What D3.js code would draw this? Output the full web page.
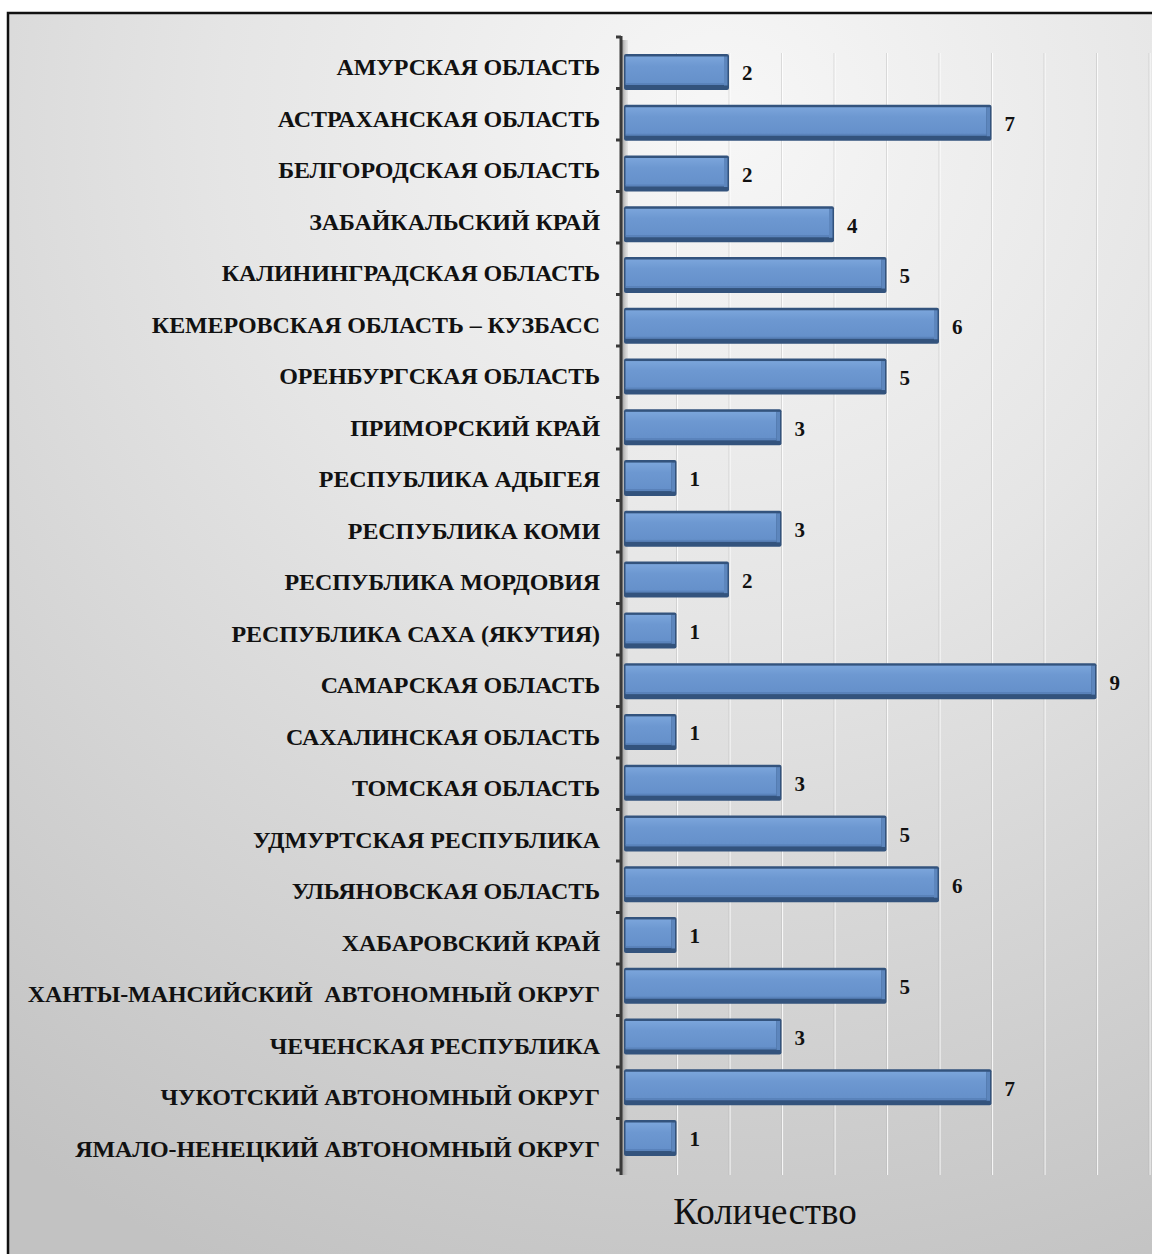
<!DOCTYPE html>
<html><head><meta charset="utf-8">
<script src="https://cdn.jsdelivr.net/npm/d3@7"></script>
<style>
html,body{margin:0;padding:0;background:#fff;}
svg{display:block;}
text{white-space:pre;}
</style></head>
<body>
<svg id="chart" width="1152" height="1254"></svg>
<script>
const categories = [
  "АМУРСКАЯ ОБЛАСТЬ",
  "АСТРАХАНСКАЯ ОБЛАСТЬ",
  "БЕЛГОРОДСКАЯ ОБЛАСТЬ",
  "ЗАБАЙКАЛЬСКИЙ КРАЙ",
  "КАЛИНИНГРАДСКАЯ ОБЛАСТЬ",
  "КЕМЕРОВСКАЯ ОБЛАСТЬ – КУЗБАСС",
  "ОРЕНБУРГСКАЯ ОБЛАСТЬ",
  "ПРИМОРСКИЙ КРАЙ",
  "РЕСПУБЛИКА АДЫГЕЯ",
  "РЕСПУБЛИКА КОМИ",
  "РЕСПУБЛИКА МОРДОВИЯ",
  "РЕСПУБЛИКА САХА (ЯКУТИЯ)",
  "САМАРСКАЯ ОБЛАСТЬ",
  "САХАЛИНСКАЯ ОБЛАСТЬ",
  "ТОМСКАЯ ОБЛАСТЬ",
  "УДМУРТСКАЯ РЕСПУБЛИКА",
  "УЛЬЯНОВСКАЯ ОБЛАСТЬ",
  "ХАБАРОВСКИЙ КРАЙ",
  "ХАНТЫ-МАНСИЙСКИЙ  АВТОНОМНЫЙ ОКРУГ",
  "ЧЕЧЕНСКАЯ РЕСПУБЛИКА",
  "ЧУКОТСКИЙ АВТОНОМНЫЙ ОКРУГ",
  "ЯМАЛО-НЕНЕЦКИЙ АВТОНОМНЫЙ ОКРУГ"
];
const values = [2,7,2,4,5,6,5,3,1,3,2,1,9,1,3,5,6,1,5,3,7,1];
const gridTicks = [0,1,2,3,4,5,6,7,8,9,10];
const axisTitle = "Количество";

const svg = d3.select("#chart");
const defs = svg.append("defs");

const bg = defs.append("radialGradient").attr("id","bg")
  .attr("gradientUnits","userSpaceOnUse")
  .attr("cx",720).attr("cy",120).attr("r",1250);
bg.append("stop").attr("offset","0%").attr("stop-color","#f7f7f7");
bg.append("stop").attr("offset","40%").attr("stop-color","#e5e5e5");
bg.append("stop").attr("offset","100%").attr("stop-color","#c2c2c2");

const barG = defs.append("linearGradient").attr("id","barFill")
  .attr("x1",0).attr("y1",0).attr("x2",0).attr("y2",1);
barG.append("stop").attr("offset","0%").attr("stop-color","#7ba5db");
barG.append("stop").attr("offset","35%").attr("stop-color","#6d98d1");
barG.append("stop").attr("offset","100%").attr("stop-color","#6590ca");

const wallG = defs.append("linearGradient").attr("id","wall")
  .attr("x1",0).attr("y1",0).attr("x2",1).attr("y2",0);
wallG.append("stop").attr("offset","0%").attr("stop-color","#8c8c8c");
wallG.append("stop").attr("offset","100%").attr("stop-color","#c8c8c8").attr("stop-opacity",0.3);

svg.append("rect").attr("x",8).attr("y",13).attr("width",1160).attr("height",1260)
  .attr("fill","url(#bg)").attr("stroke","#111").attr("stroke-width",2.5);

const x = d3.scaleLinear().domain([0,10]).range([624,1149]);
const y = d3.scaleBand().domain(categories).range([40,1173]).padding(0);
const yBar = d3.scaleBand().domain(categories).range([46.6,1163.4]).padding(0);
const bw = y.bandwidth();
const bbw = yBar.bandwidth();

// gridlines
const grid = svg.append("g");
grid.selectAll("line.g1").data(gridTicks.slice(1)).join("line").attr("class","g1")
  .attr("x1",d=>x(d)+1).attr("x2",d=>x(d)+1).attr("y1",53).attr("y2",1175)
  .attr("stroke","#ffffff").attr("stroke-opacity",0.8).attr("stroke-width",1.2);
grid.selectAll("line.g2").data(gridTicks.slice(1)).join("line").attr("class","g2")
  .attr("x1",d=>x(d)).attr("x2",d=>x(d)).attr("y1",53).attr("y2",1175)
  .attr("stroke","#a8a8a8").attr("stroke-opacity",0.35).attr("stroke-width",1);

// side wall
svg.append("rect").attr("x",621).attr("y",40).attr("width",7).attr("height",1135)
  .attr("fill","url(#wall)");

// axis
const yAxis = d3.axisLeft(y).tickSize(0).tickFormat("");
const ag = svg.append("g").attr("transform","translate(621,0)").call(yAxis);
ag.select(".domain").attr("stroke","#3a3a3a").attr("stroke-width",3)
  .attr("d","M0,36V1175");
const bounds = categories.map(c=>y(c)).concat([y.range()[1]]);
ag.selectAll("line.tk").data(bounds).join("line").attr("class","tk")
  .attr("x1",-5).attr("x2",0).attr("y1",d=>d-3).attr("y2",d=>d-3)
  .attr("stroke","#3a3a3a").attr("stroke-width",3);

// bars
const bars = svg.append("g");
const rows = bars.selectAll("g").data(categories.map((c,i)=>({c, v: values[i]}))).join("g")
  .attr("transform",d=>`translate(0,${yBar(d.c)+bbw/2})`);
const h = 36;
rows.append("rect").attr("x",x(0)).attr("y",-h/2).attr("width",d=>x(d.v)-x(0)).attr("height",h)
  .attr("fill","#33537d").attr("rx",2);
rows.append("rect").attr("x",x(0)+1.5).attr("y",-h/2+2.5).attr("width",d=>x(d.v)-x(0)-6.5).attr("height",h-9)
  .attr("fill","url(#barFill)");
rows.append("rect").attr("x",d=>x(d.v)-5).attr("y",-h/2+2.5).attr("width",3.5).attr("height",h-7)
  .attr("fill","#5d86bd");
rows.append("rect").attr("x",x(0)+1.5).attr("y",h/2-7).attr("width",d=>x(d.v)-x(0)-6.5).attr("height",2)
  .attr("fill","#5a83bb");

// value labels
rows.append("text").attr("x",d=>x(d.v)+13).attr("y",1).attr("dy","0.35em")
  .attr("font-family","'Liberation Serif','Times New Roman',serif").attr("font-weight","bold")
  .attr("font-size",21).attr("fill","#111").text(d=>d.v);

// category labels
svg.append("g").selectAll("text").data(categories).join("text")
  .attr("x",600).attr("y",d=>y(d)+bw/2+1).attr("dy","0.35em").attr("text-anchor","end")
  .attr("font-family","'Liberation Serif','Times New Roman',serif").attr("font-weight","bold")
  .attr("font-size",24).attr("letter-spacing","-0.1px").attr("fill","#111").text(d=>d);

// axis title
svg.append("text").attr("x",765).attr("y",1224).attr("text-anchor","middle")
  .attr("font-family","'Liberation Serif','Times New Roman',serif")
  .attr("font-size",37).attr("fill","#111").text(axisTitle);
</script>
</body></html>
